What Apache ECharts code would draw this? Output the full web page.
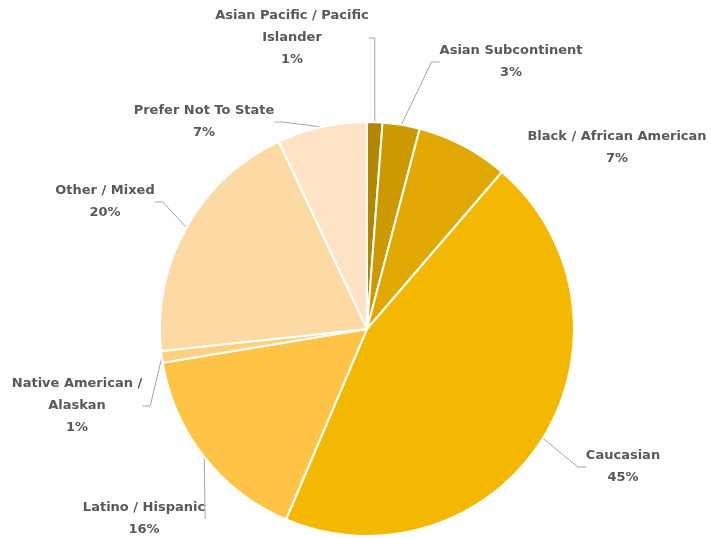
<!DOCTYPE html>
<html>
<head>
<meta charset="utf-8">
<script src="https://cdn.jsdelivr.net/npm/echarts@6/dist/echarts.min.js"></script>
<style>
  html, body { margin: 0; padding: 0; background: #fff; }
  #chart { width: 711px; height: 538px; }
</style>
</head>
<body>
<div id="chart"></div>
<script>
// slices, clockwise from 12 o'clock
var categories = ['Asian Pacific / Pacific\nIslander', 'Asian Subcontinent', 'Black / African American',
  'Caucasian', 'Latino / Hispanic', 'Native American /\nAlaskan', 'Other / Mixed', 'Prefer Not To State']
var shares = [1.2, 2.9, 7.2, 45.1, 16.0, 0.9, 19.7, 7.0]
var colors = ['#b38600', '#cc9a00', '#e0a800', '#f5b800', '#ffc446', '#ffd07f', '#fdd9a3', '#fee4c4']

// where each label block sits (centre of text)
var labelPos = [[292, 38], [511, 62], [617, 148], [623, 467], [144, 519], [77, 406], [105, 202], [204, 122]]

var myChart = echarts.init(document.getElementById('chart'))

myChart.setOption({
  animation: false,
  series: [{
    type: 'pie',
    center: [367, 329],
    radius: 207,
    startAngle: 90,
    clockwise: true,
    itemStyle: { borderColor: '#fff', borderWidth: 2 },
    label: {
      show: true,
      position: 'outside',
      formatter: function (p) { return p.name + '\n' + Math.round(p.percent) + '%' },
      fontFamily: 'DejaVu Sans',
      fontWeight: 'bold',
      fontSize: 13,
      lineHeight: 22,
      color: '#595959',
      align: 'center',
      overflow: 'none'
    },
    labelLine: {
      show: true,
      length: 12,
      length2: 8,
      lineStyle: { color: '#a6a6a6', width: 1 }
    },
    labelLayout: function (params) {
      var pos = labelPos[params.dataIndex]
      return { x: pos[0], y: pos[1], align: 'center', verticalAlign: 'middle' }
    },
    emphasis: { disabled: true },
    data: categories.map(function (name, i) {
      var item = { name: name, value: shares[i], itemStyle: { color: colors[i] } }
      if (i === 2) item.labelLine = { show: false }
      return item
    })
  }]
})
</script>
</body>
</html>
